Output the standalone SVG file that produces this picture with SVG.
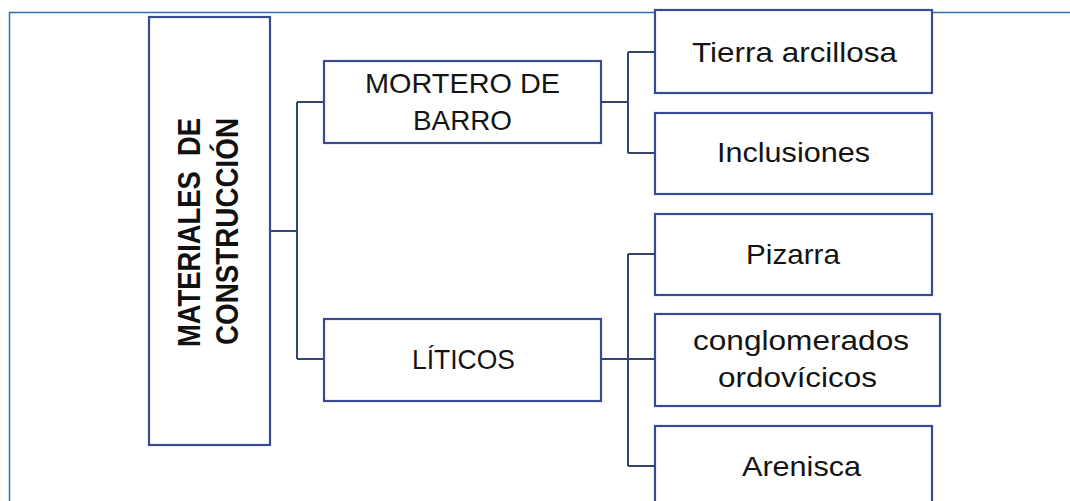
<svg xmlns="http://www.w3.org/2000/svg" width="1070" height="501" viewBox="0 0 1070 501">
<style>
.frame{fill:none;stroke:#2e6fae;stroke-width:1.5}
.box{fill:#ffffff;stroke:#3a4a92;stroke-width:2.2}
.con{fill:none;stroke:#33466f;stroke-width:2}
.t{font-family:"Liberation Sans",Arial,sans-serif;font-size:28px;fill:#141414;text-anchor:middle}
.tb{font-family:"Liberation Sans",Arial,sans-serif;font-size:31px;font-weight:bold;fill:#111111;text-anchor:middle}
</style>
<rect width="1070" height="501" fill="#ffffff"/>
<g id="frame">
<path class="frame" d="M9.5 501 V12.5 H1070"/>
</g>
<g id="connectors">
<path class="con" d="M270 231 H297 M297 102 V359 M297 102 H324 M297 359 H324"/>
<path class="con" d="M601 102 H628 M628 52 V153 M628 52 H655 M628 153 H655"/>
<path class="con" d="M601 359 H628 M628 254 V466 M628 254 H655 M628 359 H655 M628 466 H655"/>
</g>
<g id="node-materiales">
<rect class="box" x="149" y="17" width="121" height="428"/>
<text class="tb" transform="translate(200,232.5) rotate(-90)" textLength="229" lengthAdjust="spacingAndGlyphs">MATERIALES&#160; DE</text>
<text class="tb" transform="translate(238,231.5) rotate(-90)" textLength="227" lengthAdjust="spacingAndGlyphs">CONSTRUCCIÓN</text>
</g>
<g id="node-mortero">
<rect class="box" x="324" y="61" width="277" height="82"/>
<text class="t" x="462.5" y="93" textLength="195" lengthAdjust="spacingAndGlyphs">MORTERO DE</text>
<text class="t" x="462.5" y="130" textLength="99" lengthAdjust="spacingAndGlyphs">BARRO</text>
</g>
<g id="node-liticos">
<rect class="box" x="324" y="319" width="277" height="82"/>
<text class="t" x="463.5" y="369" textLength="103" lengthAdjust="spacingAndGlyphs">LÍTICOS</text>
</g>
<g id="node-tierra">
<rect class="box" x="655" y="10" width="277" height="83"/>
<text class="t" x="794.5" y="62" textLength="205" lengthAdjust="spacingAndGlyphs">Tierra arcillosa</text>
</g>
<g id="node-inclusiones">
<rect class="box" x="655" y="113" width="277" height="81"/>
<text class="t" x="793.5" y="162" textLength="153" lengthAdjust="spacingAndGlyphs">Inclusiones</text>
</g>
<g id="node-pizarra">
<rect class="box" x="655" y="214" width="277" height="81"/>
<text class="t" x="793" y="264" textLength="94" lengthAdjust="spacingAndGlyphs">Pizarra</text>
</g>
<g id="node-conglomerados">
<rect class="box" x="655" y="314" width="285" height="92"/>
<text class="t" x="801" y="350" textLength="216" lengthAdjust="spacingAndGlyphs">conglomerados</text>
<text class="t" x="797.5" y="387" textLength="159" lengthAdjust="spacingAndGlyphs">ordovícicos</text>
</g>
<g id="node-arenisca">
<rect class="box" x="655" y="426" width="277" height="90"/>
<text class="t" x="801.5" y="476" textLength="119" lengthAdjust="spacingAndGlyphs">Arenisca</text>
</g>
</svg>
